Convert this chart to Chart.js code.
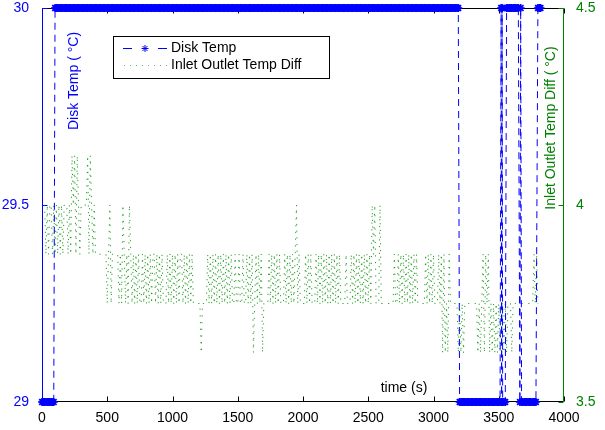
<!DOCTYPE html>
<html>
<head>
<meta charset="utf-8">
<script src="https://cdn.jsdelivr.net/npm/chart.js@4.4.0/dist/chart.umd.min.js"></script>
<style>
  html, body { margin: 0; padding: 0; background: #fff; }
  canvas { display: block; }
</style>
</head>
<body>
<canvas id="disk-temp" width="605" height="430"></canvas>
<script>
// Disk temperature, read as runs of equal readings (sampled every 10 s)
var diskRunStart = [0, 100, 3200, 3518, 3522, 3526, 3530, 3560, 3662, 3668, 3675, 3800];
var diskRunEnd   = [90, 3190, 3510, 3518, 3522, 3526, 3550, 3650, 3662, 3668, 3790, 3820];
var diskRunValue = [29, 30, 29, 30, 29, 30, 29, 30, 29, 30, 29, 30];
var diskStep = 10;

// Inlet/outlet temperature difference, one reading every 10 s from t = 0
var diffStart = 0;
var diffStep = 10;
var diffValue = [
  null, null, 4, 3.875, 4, 3.875, 4, 4, 3.875, 4,
  3.875, 4, 3.875, 4, 3.875, 4, 3.875, 4, 4, 4,
  3.875, 4, 3.875, 4.125, 4, 4.125, 3.875, 4.125, 4, 3.875,
  4, 4, 4, 4, 4, 4.125, 3.875, 4.125, 4, 3.875,
  4, 3.875, 3.875, 3.875, 3.875, 3.875, 3.875, 3.875, 3.875, 3.875,
  3.75, 3.875, 4, 3.75, 3.875, 3.875, 3.875, 3.875, 3.875, 3.75,
  3.875, 3.75, 4, 3.875, 3.75, 3.875, 3.75, 4, 3.875, 3.75,
  3.875, 3.75, 3.875, 3.75, 3.875, 3.75, 3.75, 3.875, 3.75, 3.875,
  3.75, 3.875, 3.75, 3.875, 3.75, 3.875, 3.875, 3.75, 3.875, 3.75,
  3.875, 3.75, 3.875, 3.75, 3.75, 3.75, 3.875, 3.75, 3.875, 3.75,
  3.875, 3.75, 3.875, 3.75, 3.875, 3.75, 3.875, 3.875, 3.75, 3.875,
  3.75, 3.875, 3.75, 3.875, 3.75, 3.875, 3.75, 3.75, 3.75, 3.75,
  3.75, 3.75, 3.625, 3.75, 3.75, 3.75, 3.75, 3.875, 3.75, 3.875,
  3.75, 3.875, 3.75, 3.875, 3.75, 3.875, 3.75, 3.875, 3.75, 3.875,
  3.75, 3.875, 3.75, 3.875, 3.75, 3.875, 3.75, 3.75, 3.875, 3.75,
  3.75, 3.875, 3.75, 3.75, 3.875, 3.75, 3.75, 3.875, 3.75, 3.875,
  3.75, 3.875, 3.625, 3.75, 3.875, 3.75, 3.875, 3.75, 3.875, 3.625,
  3.75, 3.75, 3.75, 3.75, 3.875, 3.75, 3.875, 3.75, 3.875, 3.75,
  3.875, 3.75, 3.875, 3.75, 3.75, 3.75, 3.875, 3.75, 3.875, 3.75,
  3.875, 3.75, 3.875, 3.75, 3.875, 4, 3.75, 3.875, 3.75, 3.75,
  3.75, 3.75, 3.875, 3.75, 3.875, 3.75, 3.875, 3.75, 3.75, 3.75,
  3.875, 3.75, 3.875, 3.75, 3.875, 3.75, 3.875, 3.75, 3.875, 3.75,
  3.875, 3.75, 3.875, 3.75, 3.875, 3.75, 3.875, 3.75, 3.875, 3.75,
  3.75, 3.75, 3.75, 3.875, 3.75, 3.75, 3.75, 3.875, 3.75, 3.875,
  3.75, 3.875, 3.75, 3.875, 3.75, 3.875, 3.75, 3.875, 3.75, 3.875,
  3.75, 3.875, 3.75, 4, 3.875, 4, 3.75, 3.75, 3.75, 4,
  3.75, 3.75, 3.75, 3.75, 3.75, 3.75, 3.75, 3.75, 3.75, 3.75,
  3.875, 3.75, 3.75, 3.875, 3.75, 3.875, 3.75, 3.875, 3.75, 3.875,
  3.75, 3.875, 3.75, 3.875, 3.75, 3.875, 3.75, 3.875, 3.75, 3.75,
  3.75, 3.75, 3.75, 3.75, 3.875, 3.75, 3.875, 3.75, 3.875, 3.75,
  3.875, 3.75, 3.75, 3.75, 3.875, 3.75, 3.875, 3.625, 3.875, 3.625,
  3.75, 3.625, 3.875, 3.75, 3.75, 3.75, 3.75, 3.75, 3.75, 3.625,
  3.75, 3.625, 3.75, 3.625, 3.75, 3.75, 3.75, 3.75, 3.75, 3.75,
  3.75, 3.75, 3.75, 3.75, 3.625, 3.75, 3.625, 3.75, 3.875, 3.625,
  3.875, 3.75, 3.875, 3.625, 3.75, 3.625, 3.75, 3.625, 3.75, 3.625,
  3.75, 3.625, 3.75, 3.75, 3.625, 3.75, 3.625, 3.75, 3.75, 3.75,
  3.625, 3.75, 3.75, 3.75, 3.75, 3.75, 3.75, 3.75, 3.75, 3.75,
  3.75, 3.75, 3.75, 3.75, 3.75, 3.75, 3.75, 3.875, 3.75, 3.875,
  3.75
];

var xTicks = [0, 500, 1000, 1500, 2000, 2500, 3000, 3500, 4000];
var diskTicks = [29, 29.5, 30];
var diffTicks = [3.5, 4, 4.5];

var FONT = '"Liberation Sans", Arial, Helvetica, sans-serif';
var BLUE = '#0000ff';
var GREEN = '#008000';

var diskPoints = [];
for (var i = 0; i < diskRunStart.length; i++) {
  for (var t = diskRunStart[i]; t <= diskRunEnd[i]; t += diskStep) {
    diskPoints.push({x: t, y: diskRunValue[i]});
  }
}
var diffPoints = diffValue.map(function (v, i) {
  return {x: diffStart + i * diffStep, y: v};
});

function drawStar(ctx, x, y, r) {
  var d = r * Math.SQRT1_2;
  ctx.beginPath();
  ctx.moveTo(x - r, y); ctx.lineTo(x + r, y);
  ctx.moveTo(x, y - r); ctx.lineTo(x, y + r);
  ctx.moveTo(x - d, y - d); ctx.lineTo(x + d, y + d);
  ctx.moveTo(x - d, y + d); ctx.lineTo(x + d, y - d);
  ctx.stroke();
}

var axesFrame = {
  id: 'axesFrame',
  beforeDatasetsDraw: function (chart) {
    var ctx = chart.ctx, a = chart.chartArea;
    var sx = chart.scales.x, sy = chart.scales.y, sy1 = chart.scales.y1;
    var L = Math.round(a.left) + 0.5, R = Math.round(a.right) - 0.5;
    var T = Math.round(a.top) + 0.5, B = Math.round(a.bottom) - 0.5;
    ctx.save();
    ctx.lineWidth = 1;
    ctx.strokeStyle = '#000';
    ctx.beginPath();
    ctx.moveTo(L, T); ctx.lineTo(R, T);
    ctx.moveTo(L, B); ctx.lineTo(R, B);
    xTicks.forEach(function (v) {
      var px = Math.round(sx.getPixelForValue(v)) + 0.5;
      ctx.moveTo(px, B); ctx.lineTo(px, B - 5);
      ctx.moveTo(px, T); ctx.lineTo(px, T + 5);
    });
    ctx.stroke();
    ctx.strokeStyle = BLUE;
    ctx.beginPath();
    ctx.moveTo(L, T); ctx.lineTo(L, B);
    diskTicks.forEach(function (v) {
      var py = Math.round(sy.getPixelForValue(v)) + 0.5;
      ctx.moveTo(L, py); ctx.lineTo(L + 5, py);
    });
    ctx.stroke();
    ctx.strokeStyle = GREEN;
    ctx.beginPath();
    ctx.moveTo(R, T); ctx.lineTo(R, B);
    diffTicks.forEach(function (v) {
      var py = Math.round(sy1.getPixelForValue(v)) + 0.5;
      ctx.moveTo(R, py); ctx.lineTo(R - 5, py);
    });
    ctx.stroke();
    ctx.restore();
  },
  afterDraw: function (chart) {
    var ctx = chart.ctx;
    ctx.save();
    ctx.font = '14px ' + FONT;
    ctx.textBaseline = 'middle';

    // axis titles
    ctx.fillStyle = BLUE;
    ctx.save();
    ctx.translate(74, 81);
    ctx.rotate(-Math.PI / 2);
    ctx.textAlign = 'center';
    ctx.fillText('Disk Temp ( \u00b0C)', 0, 0);
    ctx.restore();

    ctx.fillStyle = GREEN;
    ctx.save();
    ctx.translate(551, 128);
    ctx.rotate(-Math.PI / 2);
    ctx.textAlign = 'center';
    ctx.fillText('Inlet Outlet Temp Diff ( \u00b0C)', 0, 0);
    ctx.restore();

    ctx.fillStyle = '#000';
    ctx.textAlign = 'center';
    ctx.fillText('time (s)', 404, 388);

    // legend
    ctx.fillStyle = '#fff';
    ctx.fillRect(113.5, 36.5, 216, 42);
    ctx.strokeStyle = '#000';
    ctx.lineWidth = 1;
    ctx.strokeRect(113.5, 36.5, 216, 42);

    ctx.strokeStyle = BLUE;
    ctx.beginPath();
    ctx.moveTo(123, 48.5); ctx.lineTo(132, 48.5);
    ctx.moveTo(158, 48.5); ctx.lineTo(167, 48.5);
    ctx.stroke();
    drawStar(ctx, 145, 48.5, 3.5);

    ctx.fillStyle = 'rgba(0,150,0,0.6)';
    for (var gx = 124; gx <= 166; gx += 6) ctx.fillRect(gx, 65, 1, 1);

    ctx.fillStyle = '#000';
    ctx.textAlign = 'left';
    ctx.fillText('Disk Temp', 171, 48.5);
    ctx.fillText('Inlet Outlet Temp Diff', 171, 65.5);
    ctx.restore();
  }
};

var ctx = document.getElementById('disk-temp');

var tempChart = new Chart(ctx, {
  type: 'line',
  data: {
    datasets: [{
      label: 'Disk Temp',
      data: diskPoints,
      yAxisID: 'y',
      borderColor: BLUE,
      borderWidth: 1,
      borderDash: [7, 5],
      pointStyle: 'star',
      pointRadius: 4,
      pointBorderColor: BLUE,
      pointBackgroundColor: BLUE,
      pointBorderWidth: 1.6,
      fill: false,
      tension: 0,
      clip: false
    }, {
      label: 'Inlet Outlet Temp Diff',
      data: diffPoints,
      yAxisID: 'y1',
      borderColor: 'rgba(0,140,0,0.85)',
      borderWidth: 1,
      borderDash: [1.2, 5.5],
      pointRadius: 0,
      fill: false,
      tension: 0
    }]
  },
  options: {
    responsive: false,
    animation: false,
    devicePixelRatio: 1,
    layout: { padding: { top: 8, left: 0, right: 0, bottom: 0 } },
    plugins: { legend: { display: false }, tooltip: { enabled: false } },
    events: [],
    scales: {
      x: {
        type: 'linear', min: 0, max: 4000,
        grid: { display: false }, border: { display: false },
        ticks: {
          stepSize: 500, autoSkip: false, maxRotation: 0, color: '#000', padding: 0,
          font: { family: FONT, size: 14 },
          callback: function (v) { return String(v); }
        },
        afterFit: function (s) { s.height = 28; s.paddingLeft = 0; s.paddingRight = 0; }
      },
      y: {
        position: 'left', min: 29, max: 30,
        grid: { display: false }, border: { display: false },
        ticks: {
          stepSize: 0.5, color: BLUE, padding: 5,
          font: { family: FONT, size: 14 },
          callback: function (v) { return String(v); }
        },
        afterFit: function (s) { s.width = 42; s.paddingTop = 0; s.paddingBottom = 0; }
      },
      y1: {
        position: 'right', min: 3.5, max: 4.5,
        grid: { display: false }, border: { display: false },
        ticks: {
          stepSize: 0.5, color: GREEN, padding: 4,
          font: { family: FONT, size: 14 },
          callback: function (v) { return String(v); }
        },
        afterFit: function (s) { s.width = 41; s.paddingTop = 0; s.paddingBottom = 0; }
      }
    }
  },
  plugins: [axesFrame]
});
</script>
</body>
</html>
